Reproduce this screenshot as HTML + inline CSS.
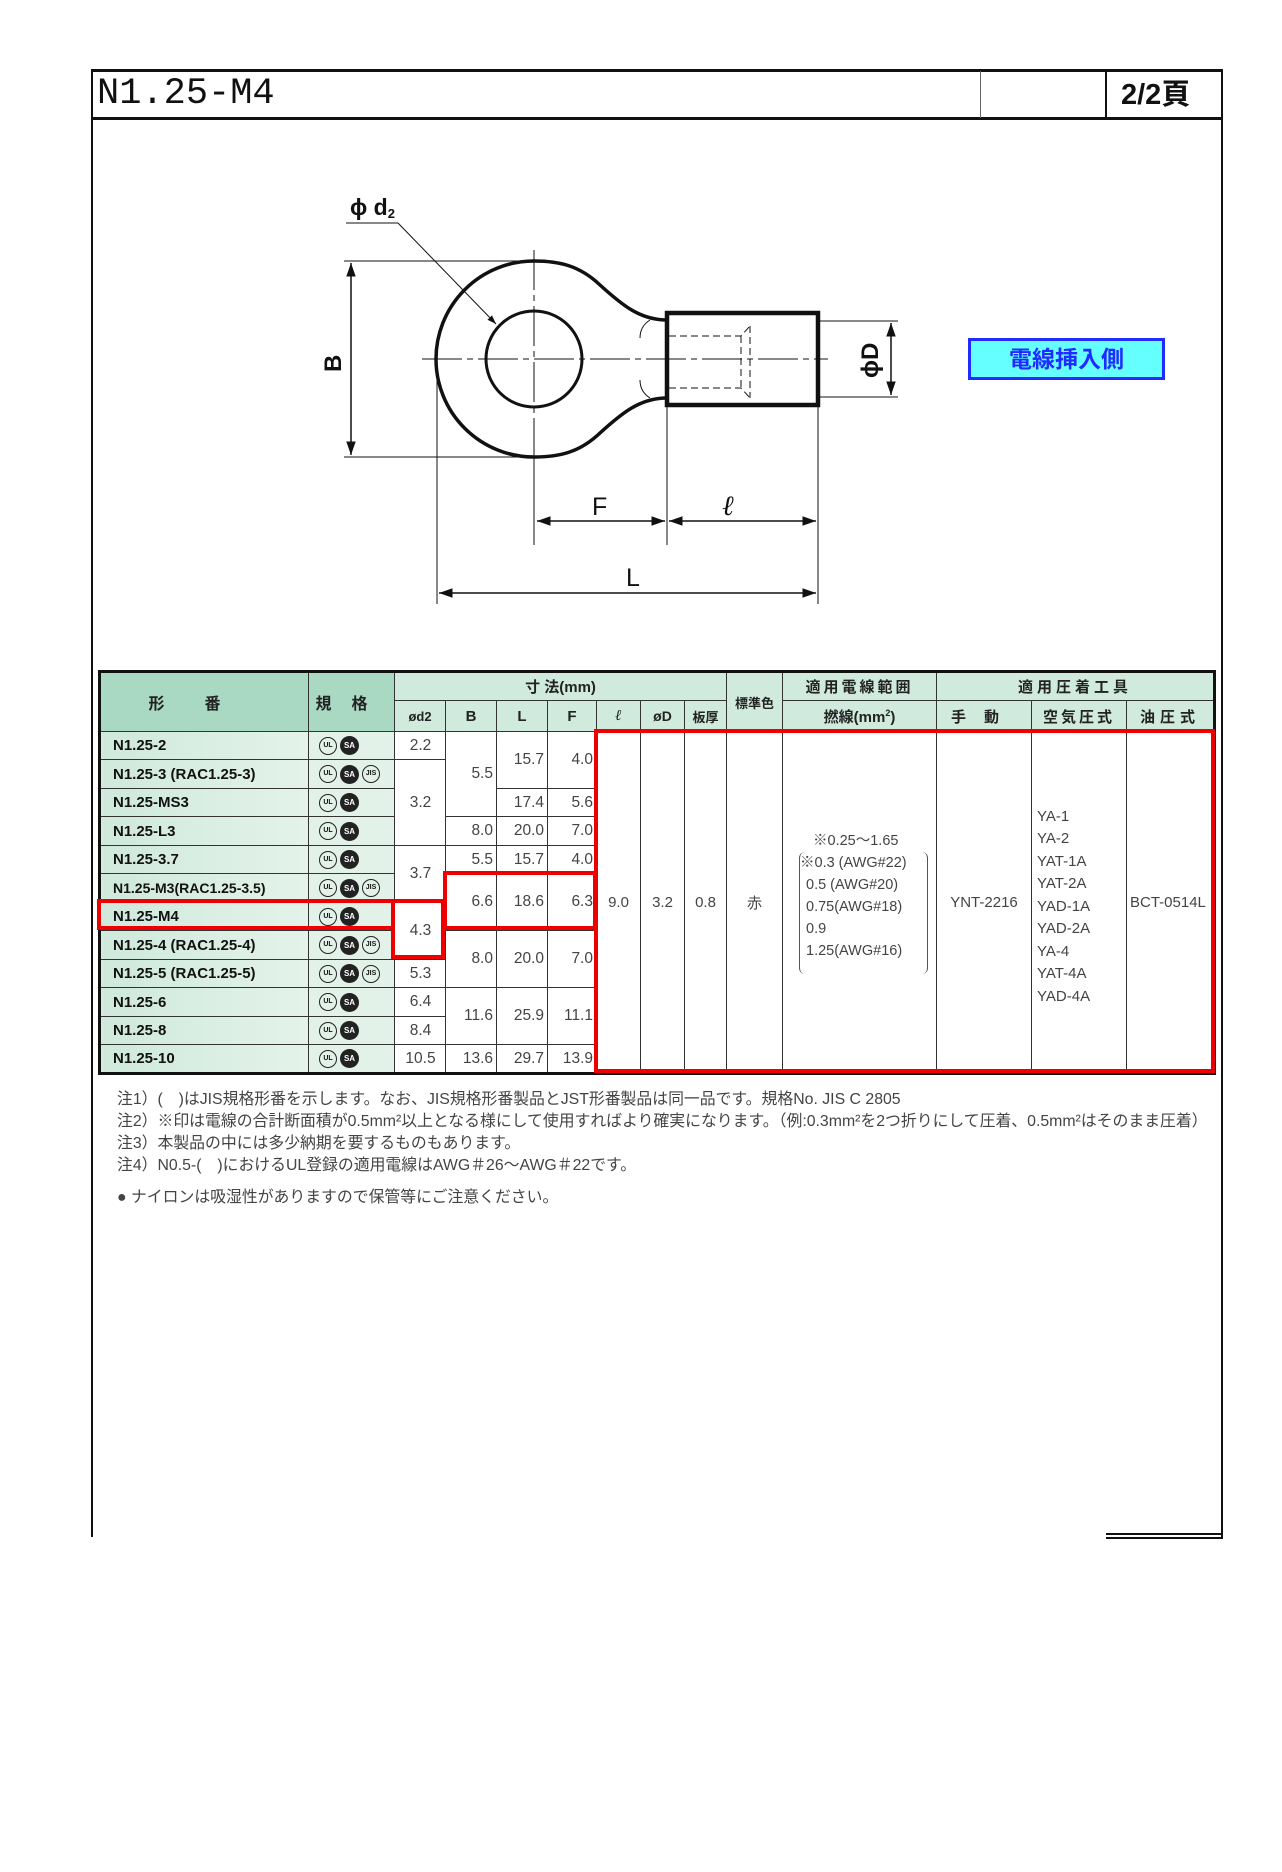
<!DOCTYPE html>
<html><head><meta charset="utf-8">
<style>
*{margin:0;padding:0;box-sizing:border-box}
body{width:1282px;height:1872px;background:#fff;position:relative;overflow:hidden;font-family:"Liberation Sans","Noto Sans CJK JP",sans-serif}
.abs{position:absolute}
table{position:absolute;left:98px;top:670px;width:1115px;border-collapse:collapse;table-layout:fixed;border:3px solid #111}
td{border:1px solid #333;font-size:15px;color:#444;padding:0 4px;overflow:hidden;white-space:nowrap}
.h1{background:#a9d9c2;font-weight:bold;color:#222;text-align:center;font-size:16px}
.h2{background:#d0ebde;font-weight:bold;color:#222;text-align:center;font-size:15px}
.nm{background:linear-gradient(90deg,#cfe9dc,#e4f3ea);font-weight:bold;color:#111;font-size:15px;padding-left:12px}
.ic{background:#e2f2e9;padding-left:10px}
.n{text-align:right;padding-right:3px;font-size:15.5px}
.c{text-align:center}
.u{display:inline-block;width:18px;height:18px;border:1.5px solid #222;border-radius:50%;font-size:7px;line-height:15px;text-align:center;color:#111;font-weight:bold;margin-right:3px;vertical-align:middle}
.s{display:inline-block;width:19px;height:19px;border-radius:50%;background:#222;color:#fff;font-size:8px;line-height:19px;text-align:center;font-weight:bold;margin-right:3px;vertical-align:middle}
.red{position:absolute;border:4px solid #e00}
.note{position:absolute;left:117px;font-size:16px;color:#444;white-space:nowrap;transform:scaleX(0.99);transform-origin:left center}
</style></head><body>

<div class="abs" style="left:91px;top:69px;width:1132px;height:3px;background:#111"></div>
<div class="abs" style="left:91px;top:117px;width:1132px;height:3px;background:#111"></div>
<div class="abs" style="left:91px;top:69px;width:2px;height:1468px;background:#111"></div>
<div class="abs" style="left:1221px;top:69px;width:2px;height:1470px;background:#111"></div>
<div class="abs" style="left:980px;top:71px;width:1px;height:47px;background:#666"></div>
<div class="abs" style="left:1105px;top:71px;width:2px;height:47px;background:#111"></div>
<div class="abs" style="left:1106px;top:1533px;width:117px;height:2px;background:#111"></div>
<div class="abs" style="left:1106px;top:1537px;width:117px;height:2px;background:#111"></div>
<div class="abs" style="left:97px;top:74px;font-family:'Liberation Mono',monospace;font-size:37px;color:#111;line-height:40px">N1.25-M4</div>
<div class="abs" style="left:1121px;top:78px;font-family:'Liberation Sans','Noto Sans CJK JP',sans-serif;font-size:29px;font-weight:bold;color:#111;line-height:34px">2/2頁</div>

<svg class="abs" style="left:0;top:0" width="1282" height="1872" viewBox="0 0 1282 1872">
<defs>
<marker id="a" viewBox="0 0 10 10" refX="10" refY="5" markerWidth="9" markerHeight="9" orient="auto-start-reverse"><path d="M0,1.5 L10,5 L0,8.5 z" fill="#111"/></marker>
</defs>
<g fill="none" stroke="#111">
<path d="M667 320 C640 320 622 305 600 285 C580 266 560 261 534 261 A98 98 0 0 0 534 457 C560 457 580 452 600 433 C622 413 640 398 667 398" stroke-width="3.5"/>
<path d="M650 320 C642 325 640 332 640 338 M650 398 C642 393 640 386 640 380" stroke-width="1"/>
<circle cx="534" cy="359" r="48" stroke-width="3"/>
<rect x="667" y="313" width="151" height="92" stroke-width="4.5"/>
<path d="M669 336 H741 L750 326 M669 388 H741 L750 398 M741 336 V388 M750 326 V398" stroke-width="1" stroke-dasharray="7,4"/>
<path d="M422 359 H828 M534 250 V545" stroke-width="1" stroke-dasharray="40,5,6,5"/>
<path d="M344 261 H534 M344 457 H534 M818 321 H898 M818 397 H898 M667 405 V545 M818 405 V604 M437 360 V604 M534 450 V545" stroke-width="1"/>
<line x1="351" y1="263" x2="351" y2="455" stroke-width="1.5" marker-start="url(#a)" marker-end="url(#a)"/>
<line x1="891" y1="323" x2="891" y2="395" stroke-width="1.5" marker-start="url(#a)" marker-end="url(#a)"/>
<line x1="537" y1="521" x2="665" y2="521" stroke-width="1.5" marker-start="url(#a)" marker-end="url(#a)"/>
<line x1="669" y1="521" x2="816" y2="521" stroke-width="1.5" marker-start="url(#a)" marker-end="url(#a)"/>
<line x1="439" y1="593" x2="816" y2="593" stroke-width="1.5" marker-start="url(#a)" marker-end="url(#a)"/>
<path d="M346 223 H398" stroke-width="1"/>
<line x1="398" y1="223" x2="496" y2="324" stroke-width="1" marker-end="url(#a)"/>
</g>
<g font-family="Liberation Sans,sans-serif" fill="#111">
<text x="350" y="215" font-size="23" font-weight="bold">ϕ d<tspan font-size="13" dy="3">2</tspan></text>
<text x="0" y="0" font-size="24" font-weight="bold" transform="translate(341,372) rotate(-90)">B</text>
<text x="0" y="0" font-size="24" font-weight="bold" transform="translate(878,378) rotate(-90)">ϕD</text>
<text x="592" y="515" font-size="25">F</text>
<text x="722" y="515" font-size="28" font-style="italic" font-family="Liberation Serif,serif">ℓ</text>
<text x="626" y="586" font-size="25">L</text>
</g>
</svg>

<div class="abs" style="left:968px;top:338px;width:197px;height:42px;background:#66ffff;border:3px solid #1f2bff;color:#1f2bff;font-weight:bold;font-size:23px;text-align:center;line-height:36px;font-family:'Liberation Sans','Noto Sans CJK JP',sans-serif">電線挿入側</div>

<table>
<colgroup>
<col style="width:209px"><col style="width:86px"><col style="width:51px"><col style="width:51px"><col style="width:51px"><col style="width:49px"><col style="width:44px"><col style="width:44px"><col style="width:42px"><col style="width:56px"><col style="width:154px"><col style="width:95px"><col style="width:95px"><col style="width:88px">
</colgroup>
<tr style="height:29px">
<td class="h1" rowspan="2" style="letter-spacing:40px">形番</td>
<td class="h1" rowspan="2" style="letter-spacing:20px">規格</td>
<td class="h2" colspan="7">寸 法(mm)</td>
<td class="h2" rowspan="2" style="font-size:13px">標準色</td>
<td class="h2" style="letter-spacing:3px">適用電線範囲</td>
<td class="h2" colspan="3" style="letter-spacing:4px">適用圧着工具</td>
</tr>
<tr style="height:31px">
<td class="h2" style="font-size:13px">ød2</td><td class="h2">B</td><td class="h2">L</td><td class="h2">F</td><td class="h2" style="font-style:italic;font-family:'Liberation Serif',serif">ℓ</td><td class="h2" style="font-size:14px">øD</td><td class="h2" style="font-size:13px">板厚</td>
<td class="h2">撚線(mm<sup style="font-size:9px">2</sup>)</td>
<td class="h2" style="letter-spacing:18px">手動</td><td class="h2" style="letter-spacing:3px">空気圧式</td><td class="h2" style="letter-spacing:5px">油圧式</td>
</tr>
<tr style="height:28px"><td class="nm">N1.25-2</td><td class="ic"><span class="u">UL</span><span class="s">SA</span></td><td class="n c">2.2</td><td class="n" rowspan="3">5.5</td><td class="n" rowspan="2">15.7</td><td class="n" rowspan="2">4.0</td>
<td class="c" rowspan="12">9.0</td><td class="c" rowspan="12">3.2</td><td class="c" rowspan="12">0.8</td><td class="c" rowspan="12">赤</td>
<td rowspan="12" style="font-size:14.5px;line-height:22px;padding-left:8px">
<div style="position:relative;padding-left:8px">
<div style="padding-left:14px">※0.25～1.65</div>
<div style="border-left:1px solid #555;border-right:1px solid #555;border-radius:6px;padding:0 4px 12px 6px;margin-right:4px">
<div style="margin-left:-6px">※0.3 (AWG#22)</div><div>0.5 (AWG#20)</div><div>0.75(AWG#18)</div><div>0.9</div><div>1.25(AWG#16)</div></div></div></td>
<td class="c" rowspan="12">YNT-2216</td>
<td rowspan="12" style="font-size:15px;line-height:22.5px;padding-left:5px;padding-top:10px">YA-1<br>YA-2<br>YAT-1A<br>YAT-2A<br>YAD-1A<br>YAD-2A<br>YA-4<br>YAT-4A<br>YAD-4A</td>
<td rowspan="12" style="padding-left:3px">BCT-0514L</td></tr>
<tr style="height:29px"><td class="nm">N1.25-3 (RAC1.25-3)</td><td class="ic"><span class="u">UL</span><span class="s">SA</span><span class="u">JIS</span></td><td class="n c" rowspan="3">3.2</td></tr>
<tr style="height:28px"><td class="nm">N1.25-MS3</td><td class="ic"><span class="u">UL</span><span class="s">SA</span></td><td class="n">17.4</td><td class="n">5.6</td></tr>
<tr style="height:29px"><td class="nm">N1.25-L3</td><td class="ic"><span class="u">UL</span><span class="s">SA</span></td><td class="n">8.0</td><td class="n">20.0</td><td class="n">7.0</td></tr>
<tr style="height:28px"><td class="nm">N1.25-3.7</td><td class="ic"><span class="u">UL</span><span class="s">SA</span></td><td class="n c" rowspan="2">3.7</td><td class="n">5.5</td><td class="n">15.7</td><td class="n">4.0</td></tr>
<tr style="height:29px"><td class="nm" style="font-size:14px">N1.25-M3(RAC1.25-3.5)</td><td class="ic"><span class="u">UL</span><span class="s">SA</span><span class="u">JIS</span></td><td class="n" rowspan="2">6.6</td><td class="n" rowspan="2">18.6</td><td class="n" rowspan="2">6.3</td></tr>
<tr style="height:28px"><td class="nm">N1.25-M4</td><td class="ic"><span class="u">UL</span><span class="s">SA</span></td><td class="n c" rowspan="2">4.3</td></tr>
<tr style="height:29px"><td class="nm">N1.25-4 (RAC1.25-4)</td><td class="ic"><span class="u">UL</span><span class="s">SA</span><span class="u">JIS</span></td><td class="n" rowspan="2">8.0</td><td class="n" rowspan="2">20.0</td><td class="n" rowspan="2">7.0</td></tr>
<tr style="height:28px"><td class="nm">N1.25-5 (RAC1.25-5)</td><td class="ic"><span class="u">UL</span><span class="s">SA</span><span class="u">JIS</span></td><td class="n c">5.3</td></tr>
<tr style="height:29px"><td class="nm">N1.25-6</td><td class="ic"><span class="u">UL</span><span class="s">SA</span></td><td class="n c">6.4</td><td class="n" rowspan="2">11.6</td><td class="n" rowspan="2">25.9</td><td class="n" rowspan="2">11.1</td></tr>
<tr style="height:28px"><td class="nm">N1.25-8</td><td class="ic"><span class="u">UL</span><span class="s">SA</span></td><td class="n c">8.4</td></tr>
<tr style="height:29px"><td class="nm">N1.25-10</td><td class="ic"><span class="u">UL</span><span class="s">SA</span></td><td class="n c">10.5</td><td class="n">13.6</td><td class="n">29.7</td><td class="n">13.9</td></tr>
</table>

<div class="red" style="left:594px;top:729px;width:621px;height:344px"></div>
<div class="red" style="left:97px;top:899px;width:298px;height:31px"></div>
<div class="red" style="left:391px;top:899px;width:54px;height:60px"></div>
<div class="red" style="left:443px;top:871px;width:154px;height:59px"></div>

<div class="note" style="top:1085px">注1）(　)はJIS規格形番を示します。なお、JIS規格形番製品とJST形番製品は同一品です。規格No. JIS C 2805</div>
<div class="note" style="top:1107px">注2）※印は電線の合計断面積が0.5mm²以上となる様にして使用すればより確実になります。（例:0.3mm²を2つ折りにして圧着、0.5mm²はそのまま圧着）</div>
<div class="note" style="top:1129px">注3）本製品の中には多少納期を要するものもあります。</div>
<div class="note" style="top:1151px">注4）N0.5-(　)におけるUL登録の適用電線はAWG＃26～AWG＃22です。</div>
<div class="note" style="top:1183px">● ナイロンは吸湿性がありますので保管等にご注意ください。</div>
</body></html>
